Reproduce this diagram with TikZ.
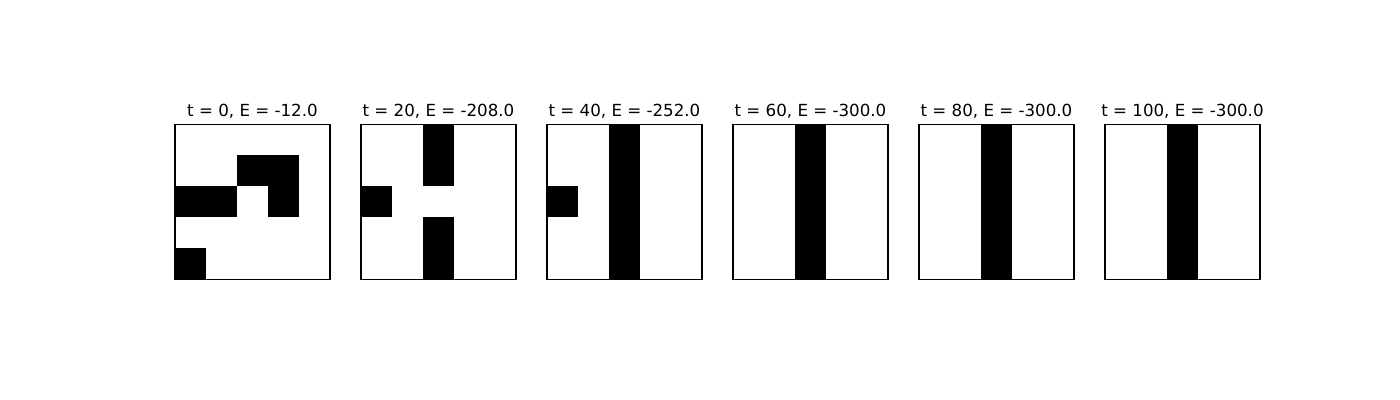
\documentclass[tikz,border=0pt]{standalone}
\usepackage{fontspec}
\setmainfont{DejaVu Sans}
\usepackage{tikz}
\usetikzlibrary{positioning, calc}
\tikzset{
    frame/.style={
        draw=black,
        line width=0.8pt,
    },
    cell/.style={
        fill=black,
    },
    paneltitle/.style={
        anchor=base,
        inner sep=0pt,
        font=\fontsize{12}{14}\selectfont,
    },
}

\begin{document}
\begin{tikzpicture}[x=0.72pt, y=-0.72pt]
      \useasboundingbox (0,0) rectangle (1400,400);
      % one panel per time step: index / t / E / black cells (col/row)
      \foreach \k/\t/\e/\cells in {
            0/0/-12.0/{2/1,3/1,0/2,1/2,3/2,0/4},
            1/20/-208.0/{2/0,2/1,0/2,2/3,2/4},
            2/40/-252.0/{2/0,2/1,2/2,2/3,2/4,0/2},
            3/60/-300.0/{2/0,2/1,2/2,2/3,2/4},
            4/80/-300.0/{2/0,2/1,2/2,2/3,2/4},
            5/100/-300.0/{2/0,2/1,2/2,2/3,2/4}} {
        \coordinate (grid-\k) at ({175+186*\k},124.5);
        \foreach \c/\r in \cells {
            \fill [cell] ($(grid-\k)+({31*\c},{31*\r})$) rectangle +(31,31);
        }
        \draw [frame] (grid-\k) rectangle +(155,155);
        \node [paneltitle] (title-\k) at ($(grid-\k)+(77.5,-8.3)$) {t = \t, E = \e};
      }
    \end{tikzpicture}
\end{document}
